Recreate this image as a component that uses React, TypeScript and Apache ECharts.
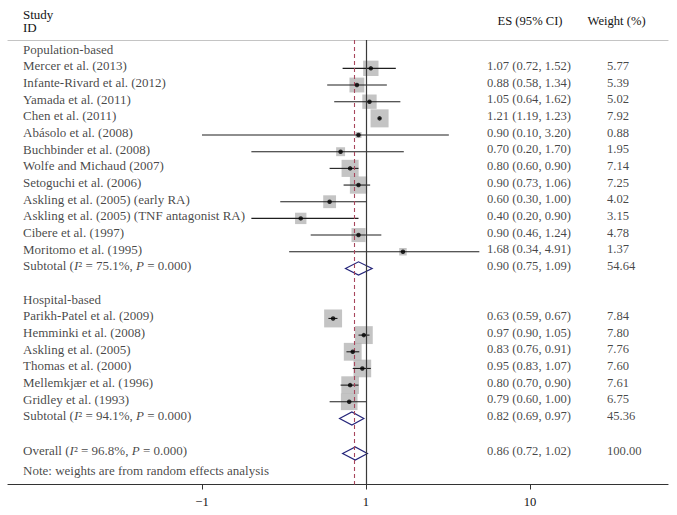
import React, { useEffect, useRef } from "react";
import * as echarts from "echarts";

// ---------- data ----------
const popStudies = [
  "Mercer et al. (2013)",
  "Infante-Rivard et al. (2012)",
  "Yamada et al. (2011)",
  "Chen et al. (2011)",
  "Abásolo et al. (2008)",
  "Buchbinder et al. (2008)",
  "Wolfe and Michaud (2007)",
  "Setoguchi et al. (2006)",
  "Askling et al. (2005) (early RA)",
  "Askling et al. (2005) (TNF antagonist RA)",
  "Cibere et al. (1997)",
  "Moritomo et al. (1995)",
];
const popES = [1.07, 0.88, 1.05, 1.21, 0.9, 0.7, 0.8, 0.9, 0.6, 0.4, 0.9, 1.68];
const popLo = [0.72, 0.58, 0.64, 1.19, 0.1, 0.2, 0.6, 0.73, 0.3, 0.2, 0.46, 0.34];
const popHi = [1.52, 1.34, 1.62, 1.23, 3.2, 1.7, 0.9, 1.06, 1.0, 0.9, 1.24, 4.91];
const popW = [5.77, 5.39, 5.02, 7.92, 0.88, 1.95, 7.14, 7.25, 4.02, 3.15, 4.78, 1.37];

const hospStudies = [
  "Parikh-Patel et al. (2009)",
  "Hemminki et al. (2008)",
  "Askling et al. (2005)",
  "Thomas et al. (2000)",
  "Mellemkjær et al. (1996)",
  "Gridley et al. (1993)",
];
const hospES = [0.63, 0.97, 0.83, 0.95, 0.8, 0.79];
const hospLo = [0.59, 0.9, 0.76, 0.83, 0.7, 0.6];
const hospHi = [0.67, 1.05, 0.91, 1.07, 0.9, 1.0];
const hospW = [7.84, 7.8, 7.76, 7.6, 7.61, 6.75];

// pooled estimates: [es, lo, hi, weight, I2, P]
const popSubtotal = [0.9, 0.75, 1.09, 54.64, "75.1", "0.000"] as const;
const hospSubtotal = [0.82, 0.69, 0.97, 45.36, "94.1", "0.000"] as const;
const overall = [0.86, 0.72, 1.02, 100.0, "96.8", "0.000"] as const;

const tickValues = [0.1, 1, 10];
const tickLabels = ["\u22121", "1", "10"];
const noteText = "Note: weights are from random effects analysis";

// ---------- layout ----------
const W = 677;
const H = 515;
const FONT = "'Liberation Serif', 'DejaVu Serif', serif";
const FS = 12.6;
const FS_NAME = 13;
const TXT = "#141414";
const ROW_POP_HEAD = 0;
const ROW_POP_START = 1;
const ROW_POP_SUB = 13;
const ROW_HOSP_HEAD = 15;
const ROW_HOSP_START = 16;
const ROW_HOSP_SUB = 22;
const ROW_OVERALL = 24.1;
const ROW_NOTE = 25.3;
const COL_NAME = 15; // px from grid left
const COL_ES = 479;
const COL_W = 599;

const lg = (v: number) => Math.log10(v);
const fmt2 = (v: number) => v.toFixed(2);
const esText = (e: number, l: number, h: number) => `${fmt2(e)} (${fmt2(l)}, ${fmt2(h)})`;

export default function App() {
  const ref = useRef<HTMLDivElement>(null);

  useEffect(() => {
    if (!ref.current) return;
    const chart = echarts.init(ref.current, undefined, { renderer: "svg" });

    type Row = { name: string; es: number; lo: number; hi: number; w: number; row: number };
    const studies: Row[] = [];
    popStudies.forEach((n, i) =>
      studies.push({ name: n, es: popES[i], lo: popLo[i], hi: popHi[i], w: popW[i], row: ROW_POP_START + i })
    );
    hospStudies.forEach((n, i) =>
      studies.push({ name: n, es: hospES[i], lo: hospLo[i], hi: hospHi[i], w: hospW[i], row: ROW_HOSP_START + i })
    );
    const pooled = [
      { label: "Subtotal", d: popSubtotal, row: ROW_POP_SUB },
      { label: "Subtotal", d: hospSubtotal, row: ROW_HOSP_SUB },
      { label: "Overall", d: overall, row: ROW_OVERALL },
    ];

    const textItems: any[] = [];
    const addText = (x: number, row: number, text: string, fs: number) =>
      textItems.push({ value: [x, row], name: text, label: { formatter: text, fontSize: fs } });
    addText(COL_NAME, ROW_POP_HEAD, "Population-based", FS_NAME);
    addText(COL_NAME, ROW_HOSP_HEAD, "Hospital-based", FS_NAME);
    studies.forEach((s) => {
      addText(COL_NAME, s.row, s.name, FS_NAME);
      addText(COL_ES, s.row, esText(s.es, s.lo, s.hi), FS);
      addText(COL_W, s.row, fmt2(s.w), FS);
    });
    pooled.forEach((p) => {
      const [e, l, h, w, i2, pv] = p.d;
      addText(COL_NAME, p.row, `${p.label} ({i|I}\u00B2 = ${i2}%, {i|P} = ${pv})`, FS_NAME);
      addText(COL_ES, p.row, esText(e as number, l as number, h as number), FS);
      addText(COL_W, p.row, fmt2(w as number), FS);
    });
    addText(COL_NAME, ROW_NOTE, noteText, FS_NAME);

    const xMin = (8 - 366) / 164;
    const xMax = (668 - 366) / 164;

    chart.setOption({
      animation: false,
      grid: { left: 8, right: W - 668, top: 40, bottom: H - 484.5, containLabel: false },
      xAxis: [
        {
          type: "value",
          min: xMin,
          max: xMax,
          position: "bottom",
          splitLine: { show: false },
          axisLine: { show: true, onZero: false, lineStyle: { color: "#333", width: 1.2 } },
          axisTick: {
            show: true,
            length: 5,
            customValues: tickValues.map(lg),
            lineStyle: { color: "#333" },
          },
          axisLabel: {
            show: true,
            customValues: tickValues.map(lg),
            margin: 11,
            fontFamily: FONT,
            fontSize: FS,
            color: TXT,
            formatter: (v: number) => {
              const i = tickValues.findIndex((t) => Math.abs(lg(t) - v) < 1e-6);
              return i >= 0 ? tickLabels[i] : "";
            },
          },
        },
        {
          type: "value",
          min: 0,
          max: 660,
          position: "top",
          splitLine: { show: false },
          axisLine: { show: true, onZero: false, lineStyle: { color: "#c4c4c4", width: 1.2 } },
          axisTick: { show: false },
          axisLabel: { show: false },
        },
      ],
      yAxis: {
        type: "value",
        inverse: true,
        min: -0.7,
        max: 25.96,
        show: false,
      },
      graphic: [
        { type: "text", x: 23, y: 14, style: { text: "Study", fontFamily: FONT, fontSize: FS_NAME, fill: TXT, verticalAlign: "middle" } },
        { type: "text", x: 23, y: 27.5, style: { text: "ID", fontFamily: FONT, fontSize: FS_NAME, fill: TXT, verticalAlign: "middle" } },
        { type: "text", x: 497.5, y: 21, style: { text: "ES (95% CI)", fontFamily: FONT, fontSize: FS, fill: TXT, verticalAlign: "middle" } },
        { type: "text", x: 587.5, y: 21, style: { text: "Weight (%)", fontFamily: FONT, fontSize: FS, fill: TXT, verticalAlign: "middle" } },
      ],
      series: [
        {
          name: "weights",
          type: "scatter",
          xAxisIndex: 0,
          z: 2,
          symbol: "rect",
          symbolSize: (val: number[]) => 6.4 * Math.sqrt(val[2]),
          itemStyle: { color: "#b5b5b5" },
          data: studies.map((s) => [lg(s.es), s.row, s.w]),
        },
        {
          name: "ci",
          type: "custom",
          xAxisIndex: 0,
          z: 3,
          encode: { x: [0, 1], y: 2 },
          renderItem: (params: any, api: any) => {
            const p1 = api.coord([api.value(0), api.value(2)]);
            const p2 = api.coord([api.value(1), api.value(2)]);
            return {
              type: "line",
              shape: { x1: p1[0], y1: p1[1], x2: p2[0], y2: p2[1] },
              style: { stroke: "#1e1e1e", lineWidth: 1.1 },
            };
          },
          data: studies.map((s) => [lg(s.lo), lg(s.hi), s.row]),
          markLine: {
            silent: true,
            symbol: "none",
            label: { show: false },
            data: [
              { xAxis: 0, lineStyle: { color: "#3a3a3a", width: 1.2, type: "solid" } },
              { xAxis: lg(overall[0]), lineStyle: { color: "#a8465c", width: 1.1, type: [4, 3] } },
            ],
          },
        },
        {
          name: "pooled",
          type: "custom",
          xAxisIndex: 0,
          z: 4,
          encode: { x: [0, 1, 2], y: 3 },
          renderItem: (params: any, api: any) => {
            const pl = api.coord([api.value(0), api.value(3)]);
            const pe = api.coord([api.value(1), api.value(3)]);
            const ph = api.coord([api.value(2), api.value(3)]);
            const h = 6.6;
            return {
              type: "polygon",
              shape: {
                points: [
                  [pl[0], pl[1]],
                  [pe[0], pe[1] - h],
                  [ph[0], ph[1]],
                  [pe[0], pe[1] + h],
                ],
              },
              style: { fill: "none", stroke: "#25257a", lineWidth: 1.2 },
            };
          },
          data: pooled.map((p) => [lg(p.d[1] as number), lg(p.d[0] as number), lg(p.d[2] as number), p.row]),
        },
        {
          name: "points",
          type: "scatter",
          xAxisIndex: 0,
          z: 5,
          symbol: "circle",
          symbolSize: 4.5,
          itemStyle: { color: "#000" },
          data: studies.map((s) => [lg(s.es), s.row]),
        },
        {
          name: "text",
          type: "scatter",
          xAxisIndex: 1,
          z: 6,
          symbolSize: 0,
          silent: true,
          clip: false,
          label: {
            show: true,
            position: "right",
            distance: 0,
            offset: [0, -2.5],
            fontFamily: FONT,
            fontSize: FS,
            color: TXT,
            rich: {
              i: { fontFamily: FONT, fontSize: FS_NAME, color: TXT, fontStyle: "italic" },
            },
          },
          data: textItems,
        },
      ],
    });

    return () => chart.dispose();
  }, []);

  return (
    <div
      ref={ref}
      style={{ position: "absolute", left: 0, top: 0, width: W, height: H, background: "#fff" }}
    />
  );
}
